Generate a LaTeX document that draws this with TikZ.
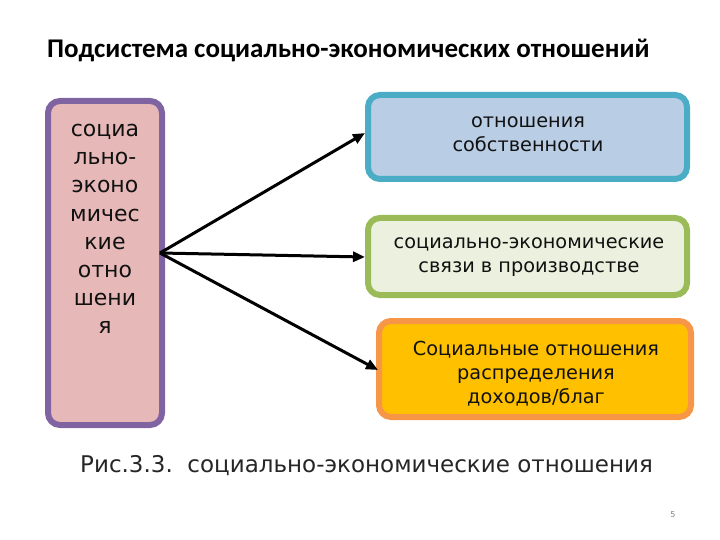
\documentclass[tikz,border=0pt]{standalone}
\usepackage{fontspec}
\setmainfont{DejaVu Sans}
\newfontfamily\titlefont{Carlito}
\usetikzlibrary{arrows.meta}
\definecolor{purpleb}{HTML}{8064A2}
\definecolor{pinkf}{HTML}{E6B9B8}
\definecolor{blueb}{HTML}{4BACC6}
\definecolor{bluef}{HTML}{B9CDE5}
\definecolor{greenb}{HTML}{9BBB59}
\definecolor{greenf}{HTML}{EBF1DE}
\definecolor{orangeb}{HTML}{F79646}
\definecolor{orangef}{HTML}{FFC000}
\definecolor{txt}{HTML}{111111}
\tikzset{
  box/.style={draw, line width=6pt, rounded corners=12pt, inner sep=0pt},
  boxtext/.style={align=center, font=\fontsize{19.3}{24}\selectfont, text=txt, inner sep=0pt},
  arr/.style={line width=3pt, -{Triangle[length=12pt,width=10pt]}}
}
\begin{document}
\begin{tikzpicture}[x=1pt,y=-1pt]
\useasboundingbox (0,0) rectangle (720,540);
\node[font=\titlefont\bfseries\fontsize{27}{30}\selectfont, anchor=west, inner sep=0pt] (title) at (47,50) {Подсистема социально-экономических отношений};
% left box
\draw[box, draw=purpleb, fill=pinkf] (48,101) rectangle (162,425);
\node[boxtext, anchor=north, font=\fontsize{22}{28.2}\selectfont] (left) at (105,124) {социа\\льно-\\эконо\\мичес\\кие\\отно\\шени\\я};
\coordinate (src) at (160,253);
% right boxes
\draw[box, draw=blueb, fill=bluef] (368,95) rectangle (687,179);
\node[boxtext] (b1) at (528,134) {отношения\\собственности};
\draw[box, draw=greenb, fill=greenf] (368,218) rectangle (687,295);
\node[boxtext] (b2) at (529,257) {социально-экономические\\связи в производстве};
\draw[box, draw=orangeb, fill=orangef] (379,321) rectangle (691,417);
\node[boxtext] (b3) at (536,374) {Социальные отношения\\распределения\\доходов/благ};
\coordinate (t1) at (365,133);
\coordinate (t2) at (365,257);
\coordinate (t3) at (378,370);
\draw[arr] (src) -- (t1);
\draw[arr] (src) -- (t2);
\draw[arr] (src) -- (t3);
\node[font=\fontsize{23}{27}\selectfont, text=black!85, anchor=west, inner sep=0pt] (cap) at (80,466) {Рис.3.3.\ \ социально-экономические отношения};
\node[font=\fontsize{8}{10}\selectfont, text=black!50] (pg) at (673,515) {5};
\end{tikzpicture}
\end{document}
